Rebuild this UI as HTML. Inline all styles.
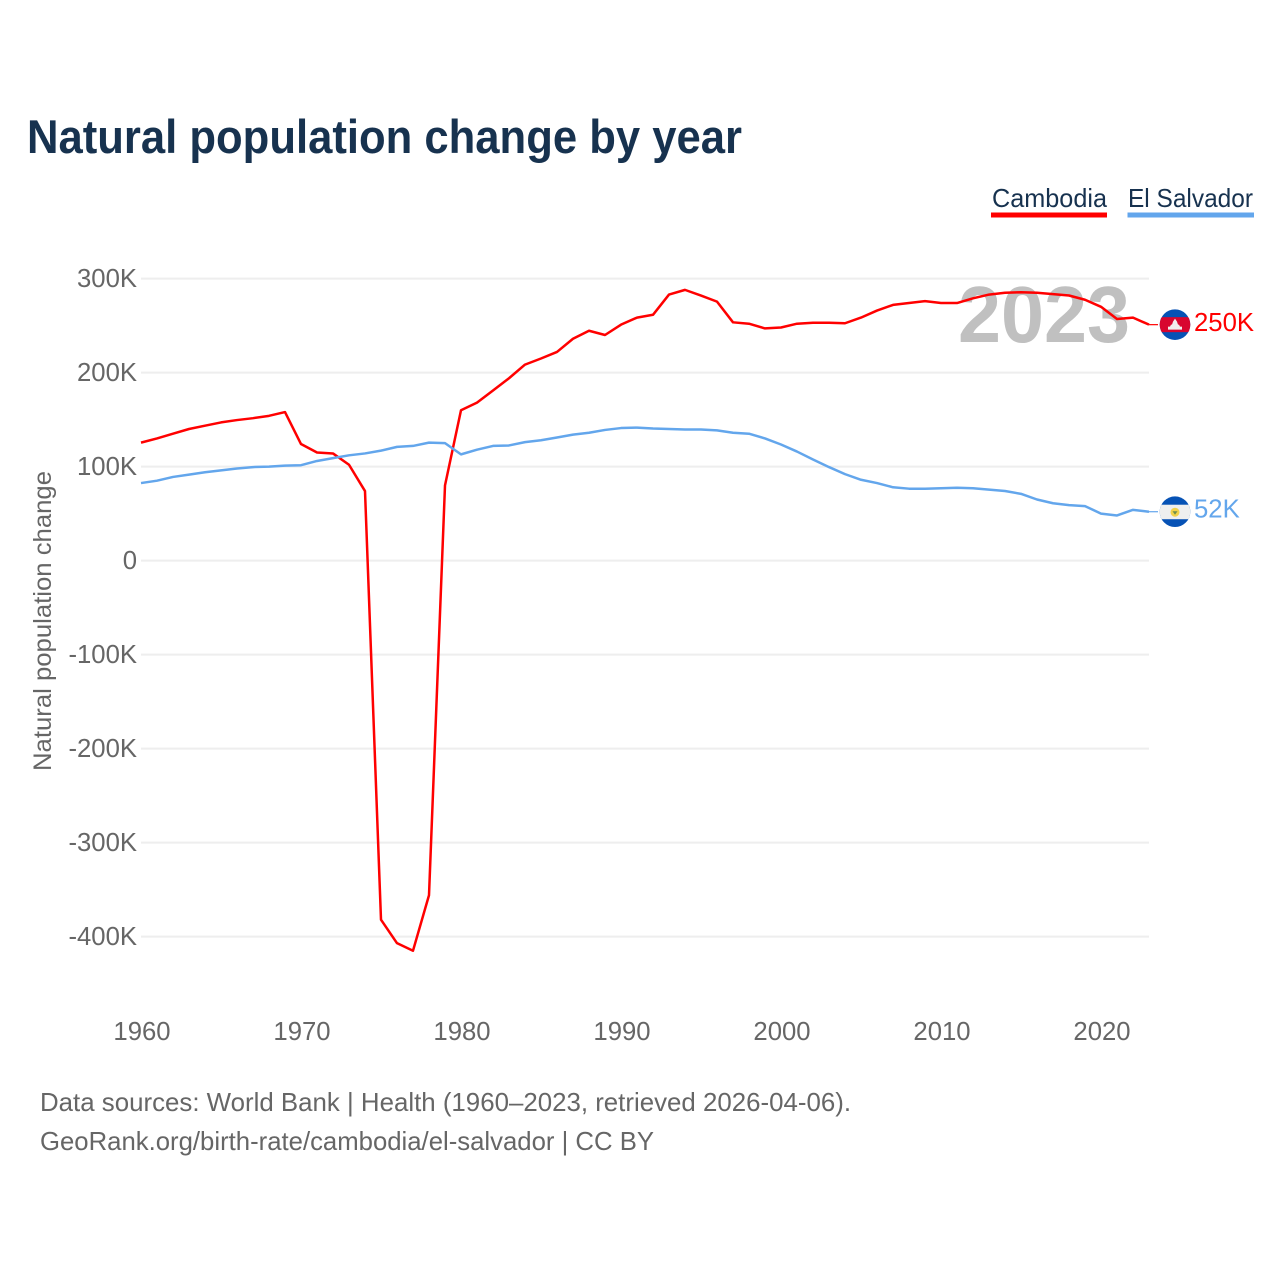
<!DOCTYPE html>
<html lang="en">
<head>
<meta charset="utf-8">
<title>Natural population change by year</title>
<style>
html,body{margin:0;padding:0;background:#fff;}
svg{display:block;font-family:"Liberation Sans",sans-serif;}
</style>
</head>
<body>
<svg id="chart" xmlns="http://www.w3.org/2000/svg" width="1280" height="1280" viewBox="0 0 1280 1280">
  <defs>
    <clipPath id="clip-kh"><circle cx="1175" cy="325" r="15.300"/></clipPath>
    <clipPath id="clip-sv"><circle cx="1175" cy="511" r="15.300"/></clipPath>
  </defs>
  <rect width="1280" height="1280" fill="#fff"/>
  <text x="27" y="153" font-size="47" font-weight="700" fill="#17324f" textLength="715" lengthAdjust="spacingAndGlyphs">Natural population change by year</text>

  <g>
    <g>
      <text x="992" y="207" font-size="26" fill="#17324f" textLength="115" lengthAdjust="spacingAndGlyphs">Cambodia</text>
      <rect x="991" y="212.5" width="116" height="5" fill="#ff0000"/>
    </g>
    <g>
      <text x="1128" y="207" font-size="26" fill="#17324f" textLength="125" lengthAdjust="spacingAndGlyphs">El Salvador</text>
      <rect x="1127.500" y="212.5" width="126.500" height="5" fill="#63a6ec"/>
    </g>
  </g>

  <g id="grid"></g>
  <g id="yticks"></g>
  <g id="xticks"></g>

  <text transform="translate(51 621) rotate(-90)" text-anchor="middle" font-size="25" fill="#666" textLength="300" lengthAdjust="spacingAndGlyphs">Natural population change</text>
  <text x="958" y="342" font-size="80" font-weight="700" fill="#c0c0c0" textLength="172" lengthAdjust="spacingAndGlyphs">2023</text>

  <g id="series"></g>

  <g id="flag-kh">
    <g clip-path="url(#clip-kh)">
      <rect x="1159" y="309" width="32" height="32" fill="#0652b5"/>
      <rect x="1159" y="317.500" width="32" height="15" fill="#d8062f"/>
      <path d="M1168 330h14v-3h-2l-1-2h-1l-1-3-2-3-2 3-1 3h-1l-1 2h-2z" fill="#f2eeee"/>
    </g>
  </g>
  <g id="flag-sv">
    <g clip-path="url(#clip-sv)">
      <rect x="1159" y="495" width="32" height="32" fill="#0652b5"/>
      <rect x="1159" y="504" width="32" height="14.500" fill="#efefef"/>
      <circle cx="1175" cy="511.500" r="4.500" fill="#f2d34c"/>
      <path d="M1172.500 510.500h5l-2.500 3.500z" fill="#6d8f4e"/>
    </g>
  </g>
  <text id="label-kh" x="1194" y="331" font-size="25.700" fill="#ff0000">250K</text>
  <text id="label-sv" x="1194" y="518" font-size="25.700" fill="#63a6ec">52K</text>

  <g>
    <text x="40" y="1111" font-size="26" fill="#666" textLength="811" lengthAdjust="spacingAndGlyphs">Data sources: World Bank | Health (1960–2023, retrieved 2026-04-06).</text>
    <text x="40" y="1150" font-size="26" fill="#666" textLength="614" lengthAdjust="spacingAndGlyphs">GeoRank.org/birth-rate/cambodia/el-salvador | CC BY</text>
  </g>
</svg>
<script>
const startYear = 1960;
const yTickValues = [300, 200, 100, 0, -100, -200, -300, -400];
const yTickLabels = ["300K", "200K", "100K", "0", "-100K", "-200K", "-300K", "-400K"];
const xTickValues = [1960, 1970, 1980, 1990, 2000, 2010, 2020];
const xTickLabels = ["1960", "1970", "1980", "1990", "2000", "2010", "2020"];
const cambodia = [125.5,130,135,140,143.5,147,149.5,151.5,154,158,124,115,114,102,74,-382,-407,-415,-356,80,160,168,181,194,208.5,215,222,236,244.5,240,251,258.5,261.5,283,288,282,275.5,253.5,252,247,248,252,253,253,252.5,258.5,266,272,274,276,274,274,279,283,285,285.5,285,283.5,282,277.5,270,257,258.5,251];
const elSalvador = [82.5,85,89,91.5,94,96,98,99.5,100,101,101.5,106,109,112,114,117,121,122,125.5,125,113,118,122,122.5,126,128,131,134,136,139,141,141.5,140.5,140,139.5,139.5,138.5,136,135,130,123.5,116,107.5,99.5,92,86,82.5,78,76.5,76.5,77,77.5,77,75.5,74,71,65,61,59,58,50,48,54,52];

const NS = "http://www.w3.org/2000/svg";
const xScale = function (year) { return 141 + (year - 1960) * 16; };
const yScale = function (value) { return 560.6 - value * 0.94; };
const plotLeft = xScale(1960);
const plotRight = xScale(2023);

function make(tag, attrs, parent, text) {
  const el = document.createElementNS(NS, tag);
  Object.keys(attrs).forEach(function (k) { el.setAttribute(k, attrs[k]); });
  if (text !== undefined) el.textContent = text;
  parent.appendChild(el);
  return el;
}

const gridGroup = document.getElementById("grid");
const yGroup = document.getElementById("yticks");
const xGroup = document.getElementById("xticks");
const seriesGroup = document.getElementById("series");

yTickValues.forEach(function (v, i) {
  const line = make("line", {x1: plotLeft, x2: plotRight, y1: yScale(v), y2: yScale(v), stroke: "#eeeeee", "stroke-width": 2}, gridGroup);
  
  
  const label = make("text", {x: 137, y: yScale(v) + 8.4, "text-anchor": "end", "font-size": 25.7, fill: "#666"}, yGroup, yTickLabels[i]);
  
  
});

xTickValues.forEach(function (v, i) {
  const label = make("text", {x: xScale(v) + 1, y: 1040, "text-anchor": "middle", "font-size": 25.7, fill: "#666"}, xGroup, xTickLabels[i]);
  
  
});

function pathFor(values) {
  return values.map(function (v, i) {
    return (i ? "L" : "M") + xScale(startYear + i) + " " + yScale(v).toFixed(2);
  }).join(" ");
}

const lineKh = make("path", {d: pathFor(cambodia), fill: "none", stroke: "#ff0000", "stroke-width": 2.5, "stroke-linejoin": "round"}, seriesGroup);


const lineSv = make("path", {d: pathFor(elSalvador), fill: "none", stroke: "#63a6ec", "stroke-width": 2.5, "stroke-linejoin": "round"}, seriesGroup);



const yKh = yScale(cambodia[cambodia.length - 1]);
const ySv = yScale(elSalvador[elSalvador.length - 1]);
const connectorKh = make("line", {x1: plotRight, x2: 1158, y1: yKh, y2: yKh, stroke: "#ff0000", "stroke-width": 1.2}, seriesGroup);


const connectorSv = make("line", {x1: plotRight, x2: 1158, y1: ySv, y2: ySv, stroke: "#63a6ec", "stroke-width": 1.2}, seriesGroup);



document.getElementById("flag-kh").setAttribute("transform", "translate(0 " + (yKh - 325).toFixed(2) + ")");
document.getElementById("flag-sv").setAttribute("transform", "translate(0 " + (ySv - 511).toFixed(2) + ")");
document.getElementById("label-kh").setAttribute("y", (yKh + 6.3).toFixed(2));
document.getElementById("label-sv").setAttribute("y", (ySv + 6).toFixed(2));
</script>
</body>
</html>
